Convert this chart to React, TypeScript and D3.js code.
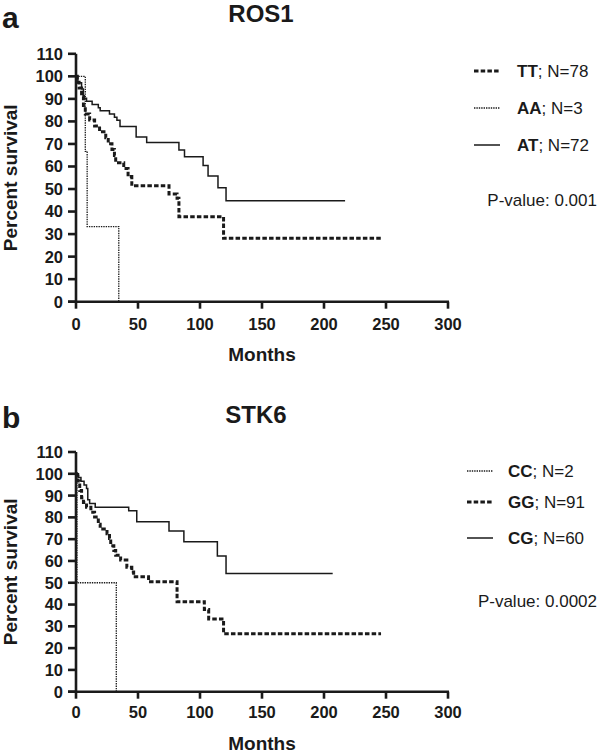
import React from 'react';
import * as d3 from 'd3';

// ---------- data ----------
const yTicks = [0, 10, 20, 30, 40, 50, 60, 70, 80, 90, 100, 110];
const xTicks = [0, 50, 100, 150, 200, 250, 300];

// Panel a: ROS1
const rosTTTime = [0, 1, 2.5, 4.5, 6, 7.5, 11, 15, 19, 24, 26, 29, 31, 32, 38.5, 42, 45, 75, 81.5, 83, 119, 246];
const rosTTSurv = [100, 97.4, 94.8, 91, 87.1, 83.3, 80.6, 78, 75.4, 72.7, 70.1, 67.5, 64.9, 61.7, 59.1, 55.5, 51.4, 47.8, 45.9, 37.7, 28.1, 28.1];
const rosAATime = [0, 7.5, 9, 34.5];
const rosAASurv = [100, 66.7, 33.3, 0];
const rosATTime = [0, 1.5, 4.5, 6, 8.5, 13, 18, 19.5, 27, 31, 33, 35.5, 48.5, 57, 83, 87.5, 102.5, 106.5, 114.5, 121, 217];
const rosATSurv = [100, 97.2, 94.4, 90.3, 88.9, 87.5, 86.1, 84.7, 83.3, 81.9, 80.5, 77.7, 73.1, 70.6, 67.3, 64.3, 60.4, 55.8, 50.6, 44.8, 44.8];

// Panel b: STK6
const stkCCTime = [0, 0.7, 32.5];
const stkCCSurv = [100, 50, 0];
const stkGGTime = [0, 0.5, 1.5, 3, 4.5, 6, 8.5, 12, 15, 18, 19.5, 25, 27, 28, 30.5, 32, 36, 41, 45, 46.5, 58.5, 81.5, 103.5, 107, 119, 246];
const stkGGSurv = [100, 98.9, 96.7, 92.3, 89, 86.8, 84.6, 82.4, 80.2, 76.9, 74.7, 72.5, 70.3, 67, 64.8, 62.6, 60.4, 57.1, 54.9, 52.7, 50.5, 41.3, 37.7, 33.4, 26.6, 26.6];
const stkCGTime = [0, 2, 4, 6.5, 8.5, 9.5, 11, 15.5, 42.5, 49, 75, 87, 114, 121, 207];
const stkCGSurv = [100, 98.3, 96.6, 94.9, 93.2, 88.1, 86.4, 84.7, 83.0, 78, 73.8, 68.8, 62.3, 54.3, 54.3];

const rosLabels = ['TT', 'AA', 'AT'];
const rosN = [78, 3, 72];
const stkLabels = ['CC', 'GG', 'CG'];
const stkN = [2, 91, 60];

// ---------- styles ----------
const FONT = '"Liberation Sans", Arial, Helvetica, sans-serif';
const INK = '#1a1a1a';
const styles: Record<string, { w: number; dash?: string }> = {
  dashed: { w: 3, dash: '4.5 2.2' },
  dotted: { w: 1.3, dash: '1.4 1' },
  solid: { w: 1.5 },
};

type Series = { label: string; n: number; time: number[]; surv: number[]; style: string };

type PanelProps = {
  letter: string;
  title: string;
  titleX: number;
  titleY: number;
  letterY: number;
  yTop: number;
  yBottom: number;
  series: Series[];
  legendLineX: [number, number];
  legendTextX: number;
  legendLineY: number[];
  pvalue: string;
  pvalueY: number;
  xLabelY: number;
  tickLabelDy: number;
};

const Panel: React.FC<PanelProps> = (p) => {
  const x = d3.scaleLinear().domain([0, 300]).range([76, 448]);
  const y = d3.scaleLinear().domain([0, 110]).range([p.yBottom, p.yTop]);
  const line = d3
    .line<[number, number]>()
    .x((d) => x(d[0]))
    .y((d) => y(d[1]))
    .curve(d3.curveStepAfter);
  const axisW = 2.6;
  return (
    <g>
      <text x={2} y={p.letterY} fontFamily={FONT} fontWeight="bold" fontSize={30} fill={INK}>
        {p.letter}
      </text>
      <text x={p.titleX} y={p.titleY} fontFamily={FONT} fontWeight="bold" fontSize={24} fill={INK} textAnchor="middle">
        {p.title}
      </text>
      {/* series */}
      {p.series.map((s, i) => {
        const pts = s.time.map((t, j) => [t, s.surv[j]] as [number, number]);
        const st = styles[s.style];
        return (
          <path
            key={i}
            d={line(pts) || ''}
            fill="none"
            stroke={INK}
            strokeWidth={st.w}
            strokeDasharray={st.dash}
          />
        );
      })}
      {/* y axis */}
      <line x1={x(0)} x2={x(0)} y1={y(110)} y2={y(0) + axisW / 2} stroke={INK} strokeWidth={axisW} />
      {yTicks.map((v) => (
        <g key={'y' + v}>
          <line x1={x(0) - 8} x2={x(0)} y1={y(v)} y2={y(v)} stroke={INK} strokeWidth={axisW} />
          <text
            x={x(0) - 13}
            y={y(v)}
            dy="0.36em"
            textAnchor="end"
            fontFamily={FONT}
            fontWeight="bold"
            fontSize={16.5}
            fill={INK}
          >
            {v}
          </text>
        </g>
      ))}
      {/* x axis */}
      <line x1={x(0) - 8} x2={x(300) + 1} y1={y(0)} y2={y(0)} stroke={INK} strokeWidth={axisW} />
      {xTicks.map((v) => (
        <g key={'x' + v}>
          <line x1={x(v)} x2={x(v)} y1={y(0)} y2={y(0) + 7} stroke={INK} strokeWidth={axisW} />
          <text
            x={x(v)}
            y={y(0) + p.tickLabelDy}
            textAnchor="middle"
            fontFamily={FONT}
            fontWeight="bold"
            fontSize={16.5}
            fill={INK}
          >
            {v}
          </text>
        </g>
      ))}
      <text
        x={(x(0) + x(300)) / 2}
        y={p.xLabelY}
        textAnchor="middle"
        fontFamily={FONT}
        fontWeight="bold"
        fontSize={19}
        fill={INK}
      >
        Months
      </text>
      <text
        transform={`translate(17,${(y(0) + y(110)) / 2}) rotate(-90)`}
        textAnchor="middle"
        fontFamily={FONT}
        fontWeight="bold"
        fontSize={19}
        fill={INK}
      >
        Percent survival
      </text>
      {/* legend */}
      {p.series.map((s, i) => {
        const st = styles[s.style];
        const ly = p.legendLineY[i];
        return (
          <g key={'lg' + i}>
            <line
              x1={p.legendLineX[0]}
              x2={p.legendLineX[1]}
              y1={ly}
              y2={ly}
              stroke={INK}
              strokeWidth={st.w}
              strokeDasharray={st.dash}
            />
            <text x={p.legendTextX} y={ly + 6} fontFamily={FONT} fontSize={17} fill={INK}>
              <tspan fontWeight="bold">{s.label}</tspan>
              <tspan>{`; N=${s.n}`}</tspan>
            </text>
          </g>
        );
      })}
      <text x={597} y={p.pvalueY} textAnchor="end" fontFamily={FONT} fontSize={17} fill={INK}>
        {p.pvalue}
      </text>
    </g>
  );
};

export default function App() {
  const rosSeries: Series[] = [
    { label: rosLabels[0], n: rosN[0], time: rosTTTime, surv: rosTTSurv, style: 'dashed' },
    { label: rosLabels[1], n: rosN[1], time: rosAATime, surv: rosAASurv, style: 'dotted' },
    { label: rosLabels[2], n: rosN[2], time: rosATTime, surv: rosATSurv, style: 'solid' },
  ];
  const stkSeries: Series[] = [
    { label: stkLabels[0], n: stkN[0], time: stkCCTime, surv: stkCCSurv, style: 'dotted' },
    { label: stkLabels[1], n: stkN[1], time: stkGGTime, surv: stkGGSurv, style: 'dashed' },
    { label: stkLabels[2], n: stkN[2], time: stkCGTime, surv: stkCGSurv, style: 'solid' },
  ];
  return (
    <svg
      width={600}
      height={753}
      style={{ position: 'absolute', left: 0, top: 0, background: '#fff' }}
    >
      <rect width={600} height={753} fill="#fff" />
      <Panel
        letter="a"
        title="ROS1"
        titleX={261}
        titleY={22}
        letterY={28}
        yTop={53.8}
        yBottom={301.7}
        series={rosSeries}
        legendLineX={[474, 500]}
        legendTextX={517}
        legendLineY={[71, 108, 145]}
        pvalue="P-value: 0.001"
        pvalueY={206}
        xLabelY={361}
        tickLabelDy={28}
      />
      <Panel
        letter="b"
        title="STK6"
        titleX={256}
        titleY={423}
        letterY={428}
        yTop={452}
        yBottom={691.7}
        series={stkSeries}
        legendLineX={[467, 493]}
        legendTextX={508}
        legendLineY={[471, 502, 538]}
        pvalue="P-value: 0.0002"
        pvalueY={607}
        xLabelY={750}
        tickLabelDy={26}
      />
    </svg>
  );
}
